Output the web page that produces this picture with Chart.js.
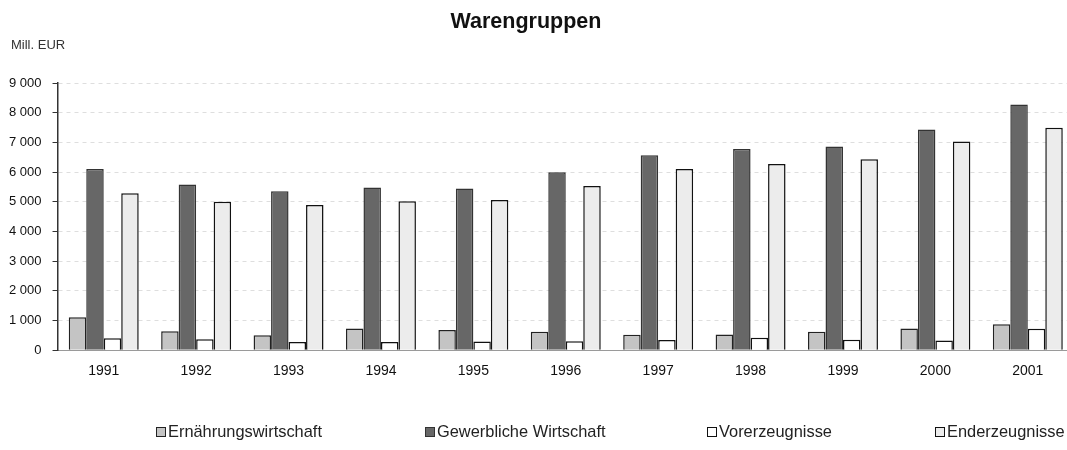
<!DOCTYPE html>
<html>
<head>
<meta charset="utf-8">
<script src="https://cdn.jsdelivr.net/npm/chart.js@4.4.1/dist/chart.umd.min.js"></script>
<style>
  html, body { margin: 0; padding: 0; background: #fff; overflow: hidden; }
  #wrap { position: relative; width: 1067px; height: 450px; overflow: hidden; }
  #c { position: absolute; left: 0; top: 0; }
  .title { position: absolute; left: 0; top: 9px; width: 1052px; text-align: center; font: bold 21.5px "Liberation Sans", Arial, sans-serif; line-height: 24px; color: #111; }
  .unit { position: absolute; left: 11px; top: 37px; font: 13px "Liberation Sans", Arial, sans-serif; color: #333; }
  .leg { position: absolute; top: 422px; font: 16.4px "Liberation Sans", Arial, sans-serif; color: #222; white-space: nowrap; display: flex; align-items: center; }
  .leg i { display: inline-block; width: 8px; height: 8px; border: 1.5px solid #111; margin-right: 2px; }
</style>
</head>
<body>
<div id="wrap">
  <canvas id="c" width="1076" height="450"></canvas>
  <div class="title">Warengruppen</div>
  <div class="unit">Mill. EUR</div>
  <div id="legend"></div>
</div>
<script>
const categories = ['1991','1992','1993','1994','1995','1996','1997','1998','1999','2000','2001'];
const seriesNames = ['Ernährungswirtschaft','Gewerbliche Wirtschaft','Vorerzeugnisse','Enderzeugnisse'];
const ernaehrung = [1110, 640, 500, 730, 680, 620, 520, 530, 620, 730, 870];
const gewerblich = [6100, 5580, 5350, 5480, 5450, 5990, 6570, 6780, 6860, 7430, 8280];
const vorerzeugnisse = [400, 370, 280, 280, 290, 300, 340, 420, 350, 330, 720];
const enderzeugnisse = [5290, 5000, 4890, 5020, 5060, 5530, 6100, 6270, 6430, 7030, 7490];
const yTickLabels = ['0','1 000','2 000','3 000','4 000','5 000','6 000','7 000','8 000','9 000'];

const fills = ['#c4c4c4', '#676767', '#ffffff', '#ececec'];
const borders = ['#222', '#333', '#111', '#111'];
const legendLeft = [156, 425, 707, 935];

const seriesValues = [ernaehrung, gewerblich, vorerzeugnisse, enderzeugnisse];
const datasets = seriesNames.map((name, i) => ({
  label: name,
  data: seriesValues[i],
  backgroundColor: fills[i],
  borderColor: borders[i],
  borderWidth: 1.5,
  categoryPercentage: 0.757,
  barPercentage: 1.0
}));

const FONT = '"Liberation Sans", Arial, sans-serif';

new Chart(document.getElementById('c'), {
  type: 'bar',
  data: { labels: categories, datasets },
  options: {
    responsive: false,
    animation: false,
    layout: { padding: { left: -2, right: 2, top: 83, bottom: 57 } },
    plugins: {
      legend: { display: false },
      tooltip: { enabled: false }
    },
    scales: {
      x: {
        grid: { display: false, drawTicks: false },
        border: { display: true, color: '#9a9a9a', width: 1 },
        ticks: { color: '#111', font: { family: FONT, size: 14 }, padding: 13, maxRotation: 0 }
      },
      y: {
        min: 0,
        max: 9000,
        grid: { color: 'rgba(0,0,0,0.13)', tickColor: '#333', tickLength: 5, lineWidth: 1 },
        border: { display: true, color: '#333', width: 1.5, dash: [4, 4] },
        ticks: {
          stepSize: 1000,
          color: '#111',
          padding: 11,
          font: { family: FONT, size: 13 },
          callback: (v, idx) => yTickLabels[idx]
        }
      }
    }
  }
});

const legend = document.getElementById('legend');
seriesNames.forEach((name, i) => {
  const d = document.createElement('div');
  d.className = 'leg';
  d.style.left = legendLeft[i] + 'px';
  const box = document.createElement('i');
  box.style.background = fills[i];
  box.style.borderColor = borders[i];
  d.appendChild(box);
  d.appendChild(document.createTextNode(name));
  legend.appendChild(d);
});
</script>
</body>
</html>
